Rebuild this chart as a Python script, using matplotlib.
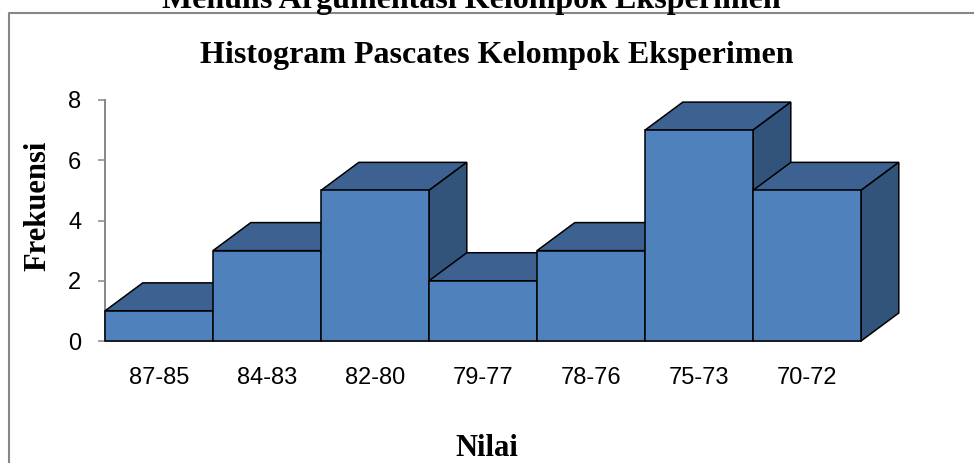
import matplotlib
matplotlib.use("Agg")
import matplotlib.pyplot as plt
from matplotlib.patches import Polygon
from matplotlib.lines import Line2D
import numpy as np

# ── Data ──────────────────────────────────────────────────────────────────────
categories = ["87-85", "84-83", "82-80", "79-77", "78-76", "75-73", "70-72"]
frekuensi = [1, 3, 5, 2, 3, 7, 5]
y_ticks = [0, 2, 4, 6, 8]

FRONT = "#4F81BD"
TOP = "#3D6291"
SIDE = "#32537A"
FRAME = "#878787"

DEPTH_X = 0.35   # oblique offset, in bar widths
DEPTH_Y = 0.93   # oblique offset, in y units

plt.rcParams["font.family"] = ["Liberation Sans", "DejaVu Sans"]

fig = plt.figure(figsize=(9.74, 4.63), dpi=100)
ax = fig.add_axes([105 / 974, 1 - 341 / 463, 756 / 974, 241 / 463])

x = np.arange(len(categories))
bars = ax.bar(x + 0.5, frekuensi, width=1.0, color=FRONT,
              edgecolor="black", linewidth=1.1)

# fake 3D: top and side faces, drawn left to right so later bars hide earlier ones
for i, (bar, h) in enumerate(zip(bars, frekuensi)):
    x0 = bar.get_x()
    w = bar.get_width()
    z = 3 + 3 * i
    top = Polygon([(x0, h), (x0 + w, h), (x0 + w + DEPTH_X, h + DEPTH_Y),
                   (x0 + DEPTH_X, h + DEPTH_Y)], closed=True,
                  facecolor=TOP, edgecolor="black", linewidth=1.1,
                  zorder=z, clip_on=False)
    side = Polygon([(x0 + w, 0), (x0 + w + DEPTH_X, DEPTH_Y),
                    (x0 + w + DEPTH_X, h + DEPTH_Y), (x0 + w, h)], closed=True,
                   facecolor=SIDE, edgecolor="black", linewidth=1.1,
                   zorder=z + 1, clip_on=False)
    ax.add_patch(top)
    ax.add_patch(side)
    bar.set_zorder(z + 2)
    bar.set_clip_on(False)

ax.set_xlim(0, len(categories))
ax.set_ylim(0, 8)
ax.set_xticks(x + 0.5)
ax.set_xticklabels(categories, fontsize=17)
ax.set_yticks(y_ticks)
ax.set_yticklabels([str(t) for t in y_ticks], fontsize=17)
ax.tick_params(axis="x", length=0, pad=19)
ax.tick_params(axis="y", direction="out", length=5, width=1.1,
               color=FRAME, pad=12)

for s in ["top", "right"]:
    ax.spines[s].set_visible(False)
for s in ["left", "bottom"]:
    ax.spines[s].set_color(FRAME)
    ax.spines[s].set_linewidth(1.4)
    ax.spines[s].set_zorder(2)

serif = dict(family=["Liberation Serif", "DejaVu Serif"], weight="bold")
fig.text(38 / 974, 1 - 206 / 463, "Frekuensi", rotation=90, ha="center",
         va="center", fontsize=22, **serif)
fig.text(487 / 974, 1 - 456 / 463, "Nilai", ha="center", va="baseline",
         fontsize=22, **serif)
fig.text(497 / 974, 1 - 63 / 463, "Histogram Pascates Kelompok Eksperimen",
         ha="center", va="baseline", fontsize=23, **serif)
fig.text(471 / 974, 1 - 8 / 463, "Menulis Argumentasi Kelompok Eksperimen",
         ha="center", va="baseline", fontsize=23, **serif)

# chart frame (left and top edges)
fig.add_artist(Line2D([8.5 / 974, 8.5 / 974, 1.0], [0, 1 - 12.5 / 463, 1 - 12.5 / 463],
                      color=FRAME, linewidth=1.5, transform=fig.transFigure))

fig.savefig("out.png", dpi=100)
